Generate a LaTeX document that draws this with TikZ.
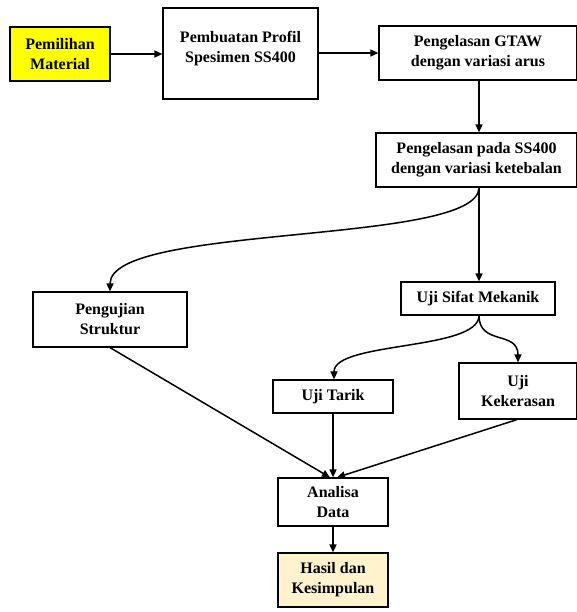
\documentclass[tikz,border=0pt]{standalone}
\usepackage{fontspec}
\setmainfont{Liberation Serif}
\usetikzlibrary{arrows.meta}
\definecolor{boxyellow}{HTML}{FFFF00}
\definecolor{boxcream}{HTML}{FFF2CC}
\begin{document}
\begin{tikzpicture}[x=1pt,y=-1pt,
  box/.style={draw=black, line width=1.2pt, rectangle, inner sep=0pt, align=center,
    font=\fontsize{16}{20}\selectfont\bfseries},
  txt/.style={inner sep=0pt, align=center, font=\fontsize{16}{20}\selectfont\bfseries},
  arr/.style={line width=1.5pt, -{Triangle[length=8pt,width=7pt]}},
]
\useasboundingbox (0,0) rectangle (576,612);

\node[box, fill=boxyellow, minimum width=100pt, minimum height=54pt] (pem) at (60,54) {Pemilihan\\Material};
\node[box, minimum width=155pt, minimum height=91pt] (prof) at (240.5,53.5) {};
\node[txt] (proft) at (240.5,48.5) {Pembuatan Profil\\Spesimen SS400};
\node[box, minimum width=198pt, minimum height=54pt] (gtaw) at (478,53) {Pengelasan GTAW\\dengan variasi arus};
\node[box, minimum width=201pt, minimum height=54pt] (ss) at (476.5,160) {Pengelasan pada SS400\\dengan variasi ketebalan};
\node[box, minimum width=154pt, minimum height=55pt] (peng) at (110,319.5) {Pengujian\\Struktur};
\node[box, minimum width=154pt, minimum height=33pt] (usm) at (478,298.5) {Uji Sifat Mekanik};
\node[box, minimum width=120pt, minimum height=33pt] (tarik) at (333,396.5) {Uji Tarik};
\node[box, minimum width=118pt, minimum height=56pt] (keras) at (518,391) {Uji\\Kekerasan};
\node[box, minimum width=110pt, minimum height=48pt] (anal) at (333,502) {Analisa\\Data};
\node[box, fill=boxcream, minimum width=110pt, minimum height=54pt] (hasil) at (333,580) {Hasil dan\\Kesimpulan};

\draw[arr] (pem.east) -- (prof.west |- pem.east);
\draw[arr] (prof.east |- gtaw.west) -- (gtaw.west);
\draw[arr] ([xshift=1pt]gtaw.south) -- ([xshift=1pt]gtaw.south |- ss.north);
\draw[arr] ([xshift=2.5pt]ss.south) -- ([xshift=2.5pt]ss.south |- usm.north);
\draw[arr] ([xshift=2.5pt]ss.south) .. controls +(0,58) and +(0,-68) .. (peng.north);
\draw[arr] ([xshift=1pt]usm.south) .. controls +(0,35) and +(0,-38) .. ([xshift=1pt]tarik.north);
\draw[arr] ([xshift=1pt]usm.south) .. controls +(0,30) and +(0,-32) .. (keras.north);
\draw[arr] (peng.south) -- ([xshift=-3pt]anal.north);
\draw[arr] (tarik.south) -- (anal.north);
\draw[arr] ([xshift=-1pt]keras.south) -- ([xshift=4pt]anal.north);
\draw[arr] (anal.south) -- (hasil.north);
\end{tikzpicture}
\end{document}
